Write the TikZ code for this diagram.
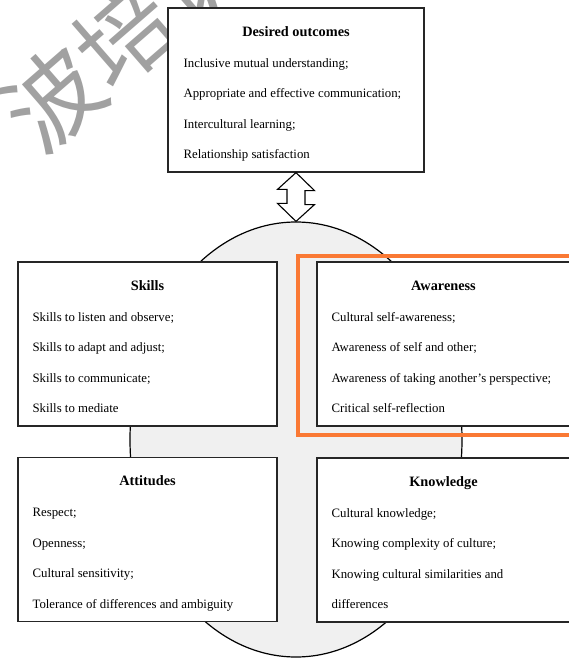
\documentclass[tikz,border=0pt]{standalone}
\usepackage{fontspec}
\setmainfont{Liberation Serif}
\newfontfamily\cjk{Noto Sans CJK SC}
\usetikzlibrary{shapes.geometric,positioning}
\definecolor{hiorange}{RGB}{250,121,52}
\definecolor{coregray}{RGB}{240,240,240}

\begin{document}
\begin{tikzpicture}[x=1pt,y=1pt,box/.style={draw=black!85,line width=1.2pt,fill=white,minimum width=259pt,minimum height=164pt,inner sep=0pt},head/.style={anchor=base,font=\fontsize{14.3}{17}\selectfont\bfseries},item/.style={anchor=base west,inner sep=0pt,font=\fontsize{12.8}{15}\selectfont}]
\useasboundingbox (0,0) rectangle (569,-658);
\node[text=black!37,font=\cjk\fontsize{96}{96}\selectfont,rotate=41] (mark) at (125,-35) {波培训};
\node[ellipse,draw,line width=1.2pt,fill=coregray,minimum width=332pt,minimum height=435pt,inner sep=0pt] (core) at (296,-439.5) {};
\node[box,minimum width=256pt] (out) at (296,-90) {};
\node[box] (skills) at (147.5,-344) {};
\node[box,minimum width=253pt] (aware) at (443.5,-344) {};
\node[box] (att) at (147.5,-539.5) {};
\node[box,minimum width=253pt] (know) at (443.5,-540) {};
\node[head] at ([yshift=-29pt]out.north) {Desired outcomes};
\node[head] at ([yshift=-29pt]skills.north) {Skills};
\node[head] at ([yshift=-29pt]aware.north) {Awareness};
\node[head] at ([yshift=-29pt]att.north) {Attitudes};
\node[head] at ([yshift=-29pt]know.north) {Knowledge};
\foreach \t [count=\i from 0] in {Inclusive mutual understanding;,Appropriate and effective communication;,Intercultural learning;,Relationship satisfaction}
  \node[item] at ([xshift=16pt,yshift={-60-30.5*\i}]out.north west) {\t};
\foreach \t [count=\i from 0] in {Skills to listen and observe;,Skills to adapt and adjust;,Skills to communicate;,Skills to mediate}
  \node[item] at ([xshift=15pt,yshift={-60-30.5*\i}]skills.north west) {\t};
\foreach \t [count=\i from 0] in {Cultural self-awareness;,Awareness of self and other;,Awareness of taking another's perspective;,Critical self-reflection}
  \node[item] at ([xshift=15pt,yshift={-60-30.5*\i}]aware.north west) {\t};
\foreach \t [count=\i from 0] in {Respect;,Openness;,Cultural sensitivity;,Tolerance of differences and ambiguity}
  \node[item] at ([xshift=15pt,yshift={-60-30.5*\i}]att.north west) {\t};
\foreach \t [count=\i from 0] in {Cultural knowledge;,Knowing complexity of culture;,Knowing cultural similarities and,differences}
  \node[item] at ([xshift=15pt,yshift={-60-30.5*\i}]know.north west) {\t};
\draw[line width=1.1pt,fill=white] (out.south) -- ++(18.5,-18) -- ++(-9.5,0) -- ++(0,-14) -- ++(9.5,0) -- (core.north) -- ++(-18.5,18) -- ++(9.5,0) -- ++(0,14) -- ++(-9.5,0) -- cycle;
\draw[hiorange,line width=4.5pt] ([xshift=-18.5pt,yshift=5.5pt]aware.north west) rectangle ([xshift=10pt,yshift=-8.5pt]aware.south east);
\end{tikzpicture}
\end{document}
